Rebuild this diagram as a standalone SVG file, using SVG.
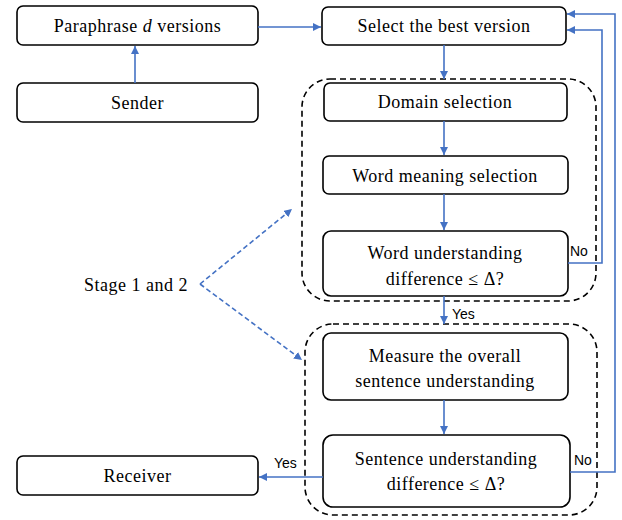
<svg xmlns="http://www.w3.org/2000/svg" width="622" height="520" viewBox="0 0 622 520">
<defs>
<marker id="ah" viewBox="0 0 10 10" refX="10" refY="5" markerWidth="8" markerHeight="8" markerUnits="userSpaceOnUse" orient="auto">
<path d="M0,0 L10,5 L0,10 z" fill="#4472C4"/>
</marker>
</defs>
<style>
.box{fill:#fff;stroke:#000;stroke-width:1.6}
.grp{fill:none;stroke:#000;stroke-width:1.6;stroke-dasharray:6,4}
.t{font-family:"Liberation Serif","Times New Roman",serif;font-size:18px;letter-spacing:0.5px;fill:#000;text-anchor:middle}
.lb{font-family:"Liberation Sans",Arial,sans-serif;font-size:14px;fill:#000}
.c{fill:none;stroke:#4472C4;stroke-width:1.6;marker-end:url(#ah)}
.cd{fill:none;stroke:#4472C4;stroke-width:1.6;stroke-dasharray:5,3;marker-end:url(#ah)}
</style>
<rect width="622" height="520" fill="#fff"/>
<g id="stage1"><rect class="grp" x="302" y="79" width="294" height="222" rx="28"/></g>
<g id="stage2"><rect class="grp" x="305" y="324" width="292" height="191" rx="28"/></g>
<g id="paraphrase"><rect class="box" x="17" y="6" width="241" height="39" rx="6"/><text class="t" x="137.5" y="32">Paraphrase <tspan font-style="italic">d</tspan> versions</text></g>
<g id="sender"><rect class="box" x="17" y="83" width="241" height="39" rx="6"/><text class="t" x="137.5" y="109">Sender</text></g>
<g id="select"><rect class="box" x="322" y="7" width="244" height="38" rx="6"/><text class="t" x="444" y="32">Select the best version</text></g>
<g id="domain"><rect class="box" x="324" y="83" width="243" height="38" rx="6"/><text class="t" x="445" y="108">Domain selection</text></g>
<g id="wordmeaning"><rect class="box" x="323" y="156" width="245" height="38" rx="6"/><text class="t" x="445" y="182">Word meaning selection</text></g>
<g id="wordunder"><rect class="box" x="323" y="231" width="245" height="65" rx="8"/><text class="t" x="445" y="259">Word understanding</text><text class="t" x="445" y="285">difference ≤ Δ?</text></g>
<g id="measure"><rect class="box" x="323" y="333" width="245" height="67" rx="8"/><text class="t" x="445" y="362">Measure the overall</text><text class="t" x="445" y="387">sentence understanding</text></g>
<g id="sentunder"><rect class="box" x="323" y="435" width="247" height="72" rx="10"/><text class="t" x="446" y="465">Sentence understanding</text><text class="t" x="446" y="490">difference ≤ Δ?</text></g>
<g id="receiver"><rect class="box" x="17" y="456" width="241" height="39" rx="6"/><text class="t" x="137.5" y="482">Receiver</text></g>
<g id="stagelabel"><text class="t" x="136" y="291">Stage 1 and 2</text></g>
<g id="connectors">
<path class="c" d="M135,83 V46"/>
<path class="c" d="M258,27 H321"/>
<path class="c" d="M444,45 V79"/>
<path class="c" d="M444,121 V155"/>
<path class="c" d="M444,194 V230"/>
<path class="c" d="M444,296 V324"/>
<path class="c" d="M444,400 V434"/>
<path class="c" d="M568,263 H602 V30 H567"/>
<path class="c" d="M570,472 H615 V14 H567"/>
<path class="c" d="M323,477 H259"/>
<path class="cd" d="M200,284 L292,209"/>
<path class="cd" d="M200,284 L302,360"/>
<text class="lb" x="570" y="256">No</text>
<text class="lb" x="452" y="319">Yes</text>
<text class="lb" x="574" y="465">No</text>
<text class="lb" x="274" y="468">Yes</text>
</g>
</svg>
